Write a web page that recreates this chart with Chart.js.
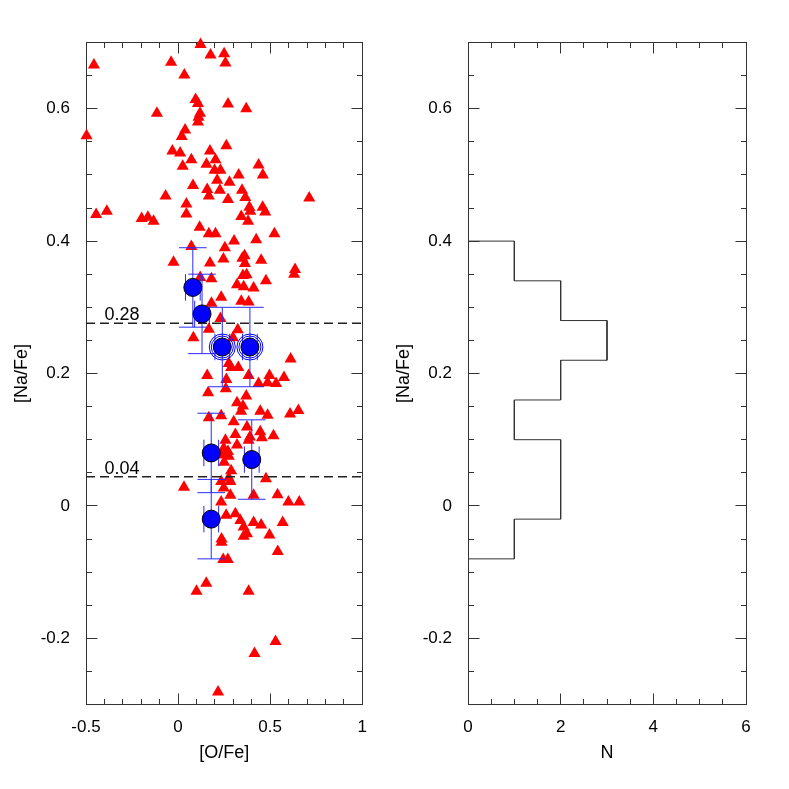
<!DOCTYPE html>
<html>
<head>
<meta charset="utf-8">
<script src="https://cdn.jsdelivr.net/npm/chart.js@4"></script>
<style>
  html, body { margin: 0; padding: 0; background: #fff; }
  #wrap { position: relative; width: 789px; height: 789px; }
  canvas { position: absolute; top: 0; }
</style>
</head>
<body>
<div id="wrap">
  <canvas id="left" width="380" height="789" style="left:0px"></canvas>
  <canvas id="right" width="409" height="789" style="left:380px"></canvas>
</div>
<script>
// red triangles: [O/Fe] and [Na/Fe]
var ofeTri = [
  0.122, 0.176, 0.250, 0.257, -0.457, -0.038, 0.034, 0.095, 0.108, 0.271, 0.370, -0.115, 0.119, 0.111, 0.108, -0.497, 0.038, 0.020, 0.262, -0.031, 0.011, 0.173,
  0.072, 0.203, 0.025, 0.154, 0.437, 0.198, 0.230, 0.460, 0.329, 0.212, 0.279, 0.081, 0.158, 0.227, 0.347, 0.167, -0.068, 0.365, 0.712, 0.271, 0.045, 0.387, 0.459, 0.392, 0.473, 0.045, -0.445, -0.387, 0.343, -0.198, -0.164, -0.133, 0.380, 0.117, 0.167, 0.203, 0.523, 0.424, 0.304, 0.254, 0.072, -0.025, 0.173, 0.246, 0.349, 0.361, 0.363, 0.451, 0.635, 0.630, 0.352, 0.372, 0.181, 0.477, 0.120,
  0.320, 0.356, 0.410, 0.234, 0.343, 0.383, 0.181, 0.230, 0.167, 0.324, 0.083, 0.298, 0.611, 0.275, 0.288, 0.327, 0.158, 0.262, 0.383, 0.496, 0.575, 0.437, 0.486, 0.532, 0.163, 0.259, 0.370, 0.320,
  0.352, 0.446, 0.486, 0.608, 0.653, 0.342, 0.167, 0.234, 0.302, 0.374, 0.446, 0.518, 0.311, 0.455, 0.257, 0.320, 0.383, 0.248, 0.271, 0.236, 0.275, 0.288, 0.275, 0.234, 0.284, 0.477, 0.032, 0.248, 0.284, 0.410, 0.540, 0.234, 0.599, 0.658, 0.261, 0.311, 0.338, 0.410, 0.568,
  0.451, 0.356, 0.374, 0.356, 0.496, 0.236, 0.236, 0.541, 0.245, 0.270, 0.153, 0.100, 0.383, 0.529, 0.415, 0.217, 0.390, 0.250
];
var nafeTri = [
  0.697, 0.681, 0.683, 0.669, 0.666, 0.670, 0.651, 0.614, 0.608, 0.607, 0.600, 0.593, 0.593, 0.587, 0.580, 0.559, 0.568, 0.558, 0.544, 0.536, 0.533, 0.536,
  0.523, 0.523, 0.513, 0.516, 0.515, 0.507, 0.507, 0.500, 0.500, 0.492, 0.489, 0.484, 0.478, 0.477, 0.477, 0.468, 0.468, 0.466, 0.465, 0.463, 0.456, 0.451, 0.451, 0.445, 0.444, 0.441, 0.440, 0.445, 0.437, 0.434, 0.436, 0.430, 0.430, 0.421, 0.411, 0.411, 0.411, 0.402, 0.400, 0.390, 0.392, 0.368, 0.367, 0.373, 0.374, 0.378, 0.366, 0.371, 0.357, 0.350, 0.348, 0.349, 0.343, 0.340, 0.345,
  0.334, 0.331, 0.329, 0.315, 0.309, 0.308, 0.306, 0.283, 0.267, 0.266, 0.254, 0.254, 0.222, 0.215, 0.209, 0.209, 0.197, 0.191, 0.197, 0.197, 0.194, 0.185, 0.186, 0.185, 0.171, 0.177, 0.166, 0.156,
  0.151, 0.143, 0.137, 0.139, 0.144, 0.143, 0.133, 0.136, 0.127, 0.119, 0.112, 0.106, 0.108, 0.103, 0.099, 0.092, 0.099, 0.087, 0.082, 0.077, 0.075, 0.053, 0.042, 0.037, 0.037, 0.041, 0.028, 0.027, 0.016, 0.016, 0.017, 0.006, 0.006, 0.006, -0.014, -0.012, -0.022, -0.025, -0.025,
  -0.029, -0.032, -0.042, -0.046, -0.044, -0.050, -0.055, -0.069, -0.081, -0.081, -0.117, -0.129, -0.129, -0.205, -0.223, -0.281, 0.104, 0.066
];

// blue circles with errors
var ofeCirc  = [0.08, 0.13, 0.24, 0.39, 0.18, 0.40, 0.18];
var nafeCirc = [0.33, 0.29, 0.24, 0.24, 0.08, 0.07, -0.02];
var ofeErr   = [0.04, 0.04, 0.04, 0.04, 0.04, 0.04, 0.04];
var nafeErr  = [0.06, 0.06, 0.06, 0.06, 0.06, 0.06, 0.06];
var ringed   = [false, false, true, true, false, false, false];

// dashed reference levels
var levels = [0.276, 0.044];
var levelLabels = ['0.28', '0.04'];

// histogram of [Na/Fe] (bin edges from top to bottom)
var binEdges  = [0.40, 0.34, 0.28, 0.22, 0.16, 0.10, 0.04, -0.02, -0.08];
var binCounts = [1, 2, 3, 2, 1, 2, 2, 1];

// tick labels
var naTicks = [-0.2, 0, 0.2, 0.4, 0.6];
var oTicks = [-0.5, 0, 0.5, 1];
var nTicks = [0, 2, 4, 6];

var FONT = "'Liberation Sans', Arial, Helvetica, sans-serif";
Chart.defaults.font.family = FONT;
Chart.defaults.color = '#000';

var capX = 0.075, capY = 0.02;
var gap = {x: NaN, y: NaN};

var triPts = ofeTri.map(function (x, i) { return {x: x, y: nafeTri[i]}; });
var circPts = ofeCirc.map(function (x, i) { return {x: x, y: nafeCirc[i]}; });
var ringPts = circPts.filter(function (p, i) { return ringed[i]; });

var errSegs = [];
circPts.forEach(function (p, i) {
  var xe = ofeErr[i], ye = nafeErr[i];
  errSegs.push({x: p.x, y: p.y - ye}, {x: p.x, y: p.y + ye}, gap);
  errSegs.push({x: p.x - capX, y: p.y + ye}, {x: p.x + capX, y: p.y + ye}, gap);
  errSegs.push({x: p.x - capX, y: p.y - ye}, {x: p.x + capX, y: p.y - ye}, gap);
  errSegs.push({x: p.x - xe, y: p.y}, {x: p.x + xe, y: p.y}, gap);
  errSegs.push({x: p.x - xe, y: p.y - capY}, {x: p.x - xe, y: p.y + capY}, gap);
  errSegs.push({x: p.x + xe, y: p.y - capY}, {x: p.x + xe, y: p.y + capY}, gap);
});

var xMinL = -0.5, xMaxL = 1, yMin = -0.3, yMax = 0.7;
var dashPts = [];
levels.forEach(function (v) {
  dashPts.push({x: xMinL, y: v}, {x: xMaxL, y: v}, gap);
});

var histPts = [{x: 0, y: binEdges[0]}];
binCounts.forEach(function (c, i) {
  histPts.push({x: c, y: binEdges[i]}, {x: c, y: binEdges[i + 1]});
});
histPts.push({x: 0, y: binEdges[binEdges.length - 1]});

// box with inward ticks on all four sides
var framePlugin = {
  id: 'frame',
  beforeDatasetsDraw: function (chart, args, o) {
    var ctx = chart.ctx, a = chart.chartArea;
    var xs = chart.scales.x, ys = chart.scales.y;
    var L = Math.floor(a.left) + 0.5, R = Math.floor(a.right) + 0.5;
    var T = Math.floor(a.top) + 0.5, B = Math.floor(a.bottom) + 0.5;
    ctx.save();
    ctx.strokeStyle = '#333';
    ctx.lineWidth = 1;
    ctx.strokeRect(L, T, R - L, B - T);
    ctx.beginPath();
    var n = Math.round((xs.max - xs.min) / o.xMinor);
    for (var i = 0; i <= n; i++) {
      var v = xs.min + i * o.xMinor;
      var major = Math.abs(v / o.xMajor - Math.round(v / o.xMajor)) < 1e-6;
      var len = major ? 11 : 5.5;
      var px = Math.floor(xs.getPixelForValue(v)) + 0.5;
      ctx.moveTo(px, B); ctx.lineTo(px, B - len);
      ctx.moveTo(px, T); ctx.lineTo(px, T + len);
    }
    n = Math.round((ys.max - ys.min) / o.yMinor);
    for (i = 0; i <= n; i++) {
      v = ys.min + i * o.yMinor;
      major = Math.abs(v / o.yMajor - Math.round(v / o.yMajor)) < 1e-6;
      len = major ? 11 : 5.5;
      var py = Math.floor(ys.getPixelForValue(v)) + 0.5;
      ctx.moveTo(L, py); ctx.lineTo(L + len, py);
      ctx.moveTo(R, py); ctx.lineTo(R - len, py);
    }
    ctx.stroke();
    ctx.restore();
  }
};

var levelLabelPlugin = {
  id: 'levelLabels',
  afterDatasetsDraw: function (chart) {
    var ctx = chart.ctx, xs = chart.scales.x, ys = chart.scales.y;
    ctx.save();
    ctx.font = '18px ' + FONT;
    ctx.fillStyle = '#000';
    ctx.textAlign = 'left';
    ctx.textBaseline = 'alphabetic';
    levels.forEach(function (v, i) {
      ctx.fillText(levelLabels[i], xs.getPixelForValue(-0.4), ys.getPixelForValue(v) - 3);
    });
    ctx.restore();
  }
};

function yScale(titlePad) {
  return {
    type: 'linear', min: yMin, max: yMax,
    afterBuildTicks: function (s) { s.ticks = naTicks.map(function (v) { return {value: v}; }); },
    afterFit: function (s) { s.width = titlePad.width; },
    grid: {display: false, drawTicks: false},
    border: {display: false},
    ticks: {padding: 16, font: {size: 17}, color: '#000', callback: function (v) { return String(v); }},
    title: {display: true, text: '[Na/Fe]', font: {size: 18}, color: '#000', padding: {top: titlePad.top, bottom: 0}}
  };
}

function xScale(min, max, tickVals, label) {
  return {
    type: 'linear', min: min, max: max,
    afterBuildTicks: function (s) { s.ticks = tickVals.map(function (v) { return {value: v}; }); },
    afterFit: function (s) { s.height = 84.5; },
    grid: {display: false, drawTicks: false},
    border: {display: false},
    ticks: {padding: 13, font: {size: 17}, color: '#000', maxRotation: 0, callback: function (v) { return String(v); }},
    title: {display: true, text: label, font: {size: 18}, color: '#000', padding: {top: 0, bottom: 25}}
  };
}

var blue = '#0000ff';

new Chart(document.getElementById('left'), {
  type: 'scatter',
  data: {
    datasets: [
      {data: circPts, pointStyle: 'circle', pointRadius: 9, backgroundColor: blue, borderColor: '#000', borderWidth: 1, clip: false},
      {data: ringPts, pointStyle: 'circle', pointRadius: 11, backgroundColor: 'rgba(0,0,0,0)', borderColor: blue, borderWidth: 1, clip: false},
      {data: ringPts, pointStyle: 'circle', pointRadius: 13, backgroundColor: 'rgba(0,0,0,0)', borderColor: blue, borderWidth: 1, clip: false},
      {data: errSegs, showLine: true, spanGaps: false, pointRadius: 0, borderColor: '#2a2aff', borderWidth: 1, clip: false},
      {data: dashPts, showLine: true, spanGaps: false, pointRadius: 0, borderColor: '#222', borderWidth: 1.5, borderDash: [9, 5], clip: false},
      {data: triPts, pointStyle: 'triangle', pointRadius: 7, backgroundColor: '#ff0000', borderColor: '#ff0000', borderWidth: 0, clip: false}
    ]
  },
  options: {
    responsive: false,
    animation: false,
    devicePixelRatio: 1,
    layout: {padding: {top: 42.5, right: 16, left: 0, bottom: 0}},
    plugins: {
      legend: {display: false},
      tooltip: {enabled: false},
      frame: {xMinor: 0.1, xMajor: 0.5, yMinor: 0.05, yMajor: 0.2}
    },
    scales: {
      x: xScale(xMinL, xMaxL, oTicks, '[O/Fe]'),
      y: yScale({width: 86, top: 11})
    }
  },
  plugins: [framePlugin, levelLabelPlugin]
});

new Chart(document.getElementById('right'), {
  type: 'scatter',
  data: {
    datasets: [
      {data: histPts, showLine: true, pointRadius: 0, borderColor: '#333', borderWidth: 1, clip: false}
    ]
  },
  options: {
    responsive: false,
    animation: false,
    devicePixelRatio: 1,
    layout: {padding: {top: 42.5, right: 43, left: 0, bottom: 0}},
    plugins: {
      legend: {display: false},
      tooltip: {enabled: false},
      frame: {xMinor: 0.5, xMajor: 2, yMinor: 0.05, yMajor: 0.2}
    },
    scales: {
      x: xScale(0, 6, nTicks, 'N'),
      y: yScale({width: 88, top: 13})
    }
  },
  plugins: [framePlugin]
});
</script>
</body>
</html>
